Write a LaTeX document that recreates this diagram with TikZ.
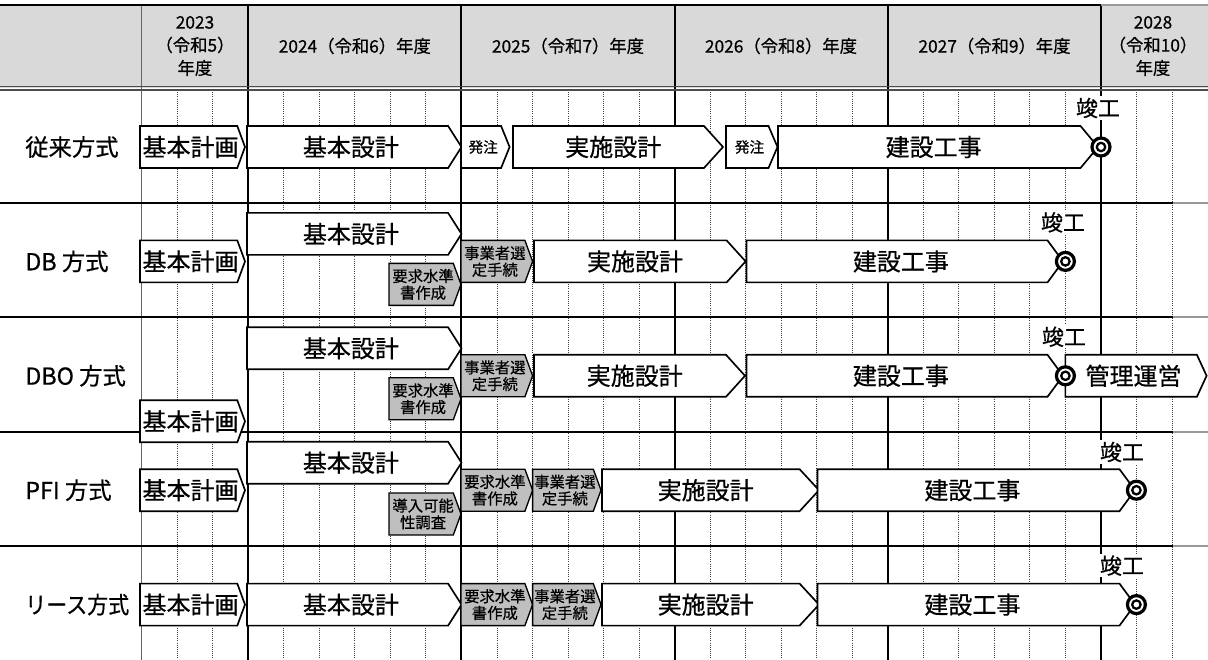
\documentclass[tikz,border=0pt]{standalone}
\usepackage{fontspec}
\setmainfont{Noto Sans CJK JP}[RawFeature={embolden=0.6}]
\definecolor{hdr}{RGB}{217,217,217}
\definecolor{boxgray}{RGB}{191,191,191}
\newcommand\chev[8]{%
  \draw[#6] (#2,#4) -- ({#3-#5},#4) -- (#3,{#4+21}) -- ({#3-#5},{#4+42}) -- (#2,{#4+42}) -- cycle;
  \node[#7] (#1) at ({(#2+#3-#5/2)/2},{#4+21}) {#8};}
\newcommand\done[5]{% name, x circle, y circle, x label, y label
  \node[donelab] (#1l) at (#4,#5) {竣工};
  \node[ringout] (#1) at (#2,#3) {};
  \node[ringin] (#1i) at (#2,#3) {};}
\begin{document}
\begin{tikzpicture}[x=0.75pt,y=-0.75pt,
  wbox/.style={draw=black, fill=white, line width=1.25pt},
  gboxs/.style={draw=black, fill=boxgray, line width=1pt},
  wtxt/.style={font=\fontsize{18}{20}\selectfont, inner sep=0pt},
  gtxt/.style={font=\fontsize{11.5}{12.5}\selectfont, align=center, inner sep=0pt},
  stxt/.style={font=\fontsize{11}{13}\selectfont, inner sep=0pt},
  rowlab/.style={font=\fontsize{17.5}{20}\selectfont, anchor=west, inner sep=0pt},
  hdrtxt/.style={font=\fontsize{13}{17.25}\selectfont, align=center, inner sep=0pt},
  donelab/.style={font=\fontsize{16.5}{18}\selectfont, fill=white, inner sep=1pt},
  ringout/.style={circle, draw=black, fill=white, line width=2.4pt, minimum size=13.5pt, inner sep=0pt},
  ringin/.style={circle, draw=black, line width=1.7pt, minimum size=6.3pt, inner sep=0pt},
  yearline/.style={line width=1.5pt, black},
  dotline/.style={densely dotted, line width=0.6pt, black!75},
  sepline/.style={line width=1.5pt, black},
  fadeline/.style={line width=1.5pt, black!40}
]
\useasboundingbox (0,0) rectangle (1208,660);
% header background
\fill[hdr] (0,5.5) rectangle (1208,88);
% dotted grid
\foreach \t in {1,...,29}{
  \pgfmathparse{int(mod(\t+3,6))}
  \ifnum\pgfmathresult=0 \else
    \draw[dotline] ({141.6+35.53*\t},90) -- ({141.6+35.53*\t},660);
  \fi}
% solid year lines
\draw[line width=0.9pt, black!60] (141.6,5.5) -- (141.6,660);
\foreach \t in {3,9,15,21,27}
  \draw[yearline] ({141.6+35.53*\t},5.5) -- ({141.6+35.53*\t},660);
% top and header bottom
\draw[sepline] (0,5.5) -- (1101,5.5);
\draw[fadeline] (1101,5.5) -- (1208,5.5);
\draw[line width=0.7pt, black!70] (0,86.5) -- (1208,86.5);
\draw[line width=1.1pt, black!70] (0,90) -- (1208,90);
% row separators
\foreach \y in {202.9,317.3,431.7,546.1}{
  \draw[sepline] (0,\y) -- (1173,\y);
  \draw[fadeline] (1173,\y) -- (1208,\y);}
% header texts
\node[hdrtxt] (h23) at (195,46) {2023\\（令和5）\\年度};
\node[hdrtxt] (h24) at (354.8,46) {2024（令和6）年度};
\node[hdrtxt] (h25) at (568,46) {2025（令和7）年度};
\node[hdrtxt] (h26) at (781,46) {2026（令和8）年度};
\node[hdrtxt] (h27) at (994.5,46) {2027（令和9）年度};
\node[hdrtxt] (h28) at (1153,46) {2028\\（令和10）\\年度};
% row labels
\node[rowlab] (r1) at (25,147) {従来方式};
\node[rowlab] (r2) at (25,261.4) {DB 方式};
\node[rowlab] (r3) at (25,375.8) {DBO 方式};
\node[rowlab] (r4) at (25,490.2) {PFI 方式};
\node[rowlab] (r5) at (25,604.6) {\scalebox{0.9}[1]{リース方式}};
% row 1
\chev{a1}{140}{245}{126}{7.7}{wbox}{wtxt}{基本計画}
\chev{a2}{247}{461.5}{126}{13.4}{wbox}{wtxt}{基本設計}
\chev{a3}{461}{509.6}{126}{8.5}{wbox}{stxt}{発注}
\chev{a4}{513}{723}{126}{19}{wbox}{wtxt}{実施設計}
\chev{a5}{726}{777.5}{126}{9}{wbox}{stxt}{発注}
\chev{a6}{778}{1098}{126}{17.5}{wbox}{wtxt}{建設工事}
\done{k1}{1101}{147}{1098}{108}
% row 2
\chev{b1}{140}{245}{240.4}{7.7}{wbox}{wtxt}{基本計画}
\chev{b2}{247}{461.5}{212.9}{13.4}{wbox}{wtxt}{基本設計}
\chev{b3}{389}{461}{263.4}{7.7}{gboxs}{gtxt}{要求水準\\書作成}
\chev{b4}{461}{532.6}{240.4}{7.7}{gboxs}{gtxt}{事業者選\\定手続}
\chev{b5}{534}{745.6}{240.4}{19}{wbox}{wtxt}{実施設計}
\chev{b6}{746.5}{1063}{240.4}{15.5}{wbox}{wtxt}{建設工事}
\done{k2}{1065.4}{261.4}{1063}{222.4}
% row 3
\chev{c1}{140}{245}{400.3}{7.7}{wbox}{wtxt}{基本計画}
\chev{c2}{247}{461.5}{327.3}{13.4}{wbox}{wtxt}{基本設計}
\chev{c3}{389}{461}{377.8}{7.7}{gboxs}{gtxt}{要求水準\\書作成}
\chev{c4}{461}{532.6}{354.8}{7.7}{gboxs}{gtxt}{事業者選\\定手続}
\chev{c5}{534}{745}{354.8}{19}{wbox}{wtxt}{実施設計}
\chev{c6}{746.5}{1063}{354.8}{15.5}{wbox}{wtxt}{建設工事}
\chev{c7}{1065.4}{1206.6}{354.8}{9.7}{wbox}{wtxt}{管理運営}
\done{k3}{1065.4}{375.8}{1064}{336.8}
% row 4
\chev{d1}{140}{245}{469.2}{7.7}{wbox}{wtxt}{基本計画}
\chev{d2}{247}{461.5}{441.7}{13.4}{wbox}{wtxt}{基本設計}
\chev{d3}{389}{461}{493}{7.7}{gboxs}{gtxt}{導入可能\\性調査}
\chev{d4}{461}{532.6}{469.2}{7.7}{gboxs}{gtxt}{要求水準\\書作成}
\chev{d5}{532.6}{601}{469.2}{7.7}{gboxs}{gtxt}{事業者選\\定手続}
\chev{d6}{602}{819}{469.2}{19.4}{wbox}{wtxt}{実施設計}
\chev{d7}{817.5}{1135}{469.2}{15.5}{wbox}{wtxt}{建設工事}
\done{k4}{1136.4}{490.2}{1122}{452}
% row 5
\chev{e1}{140}{245}{583.6}{7.7}{wbox}{wtxt}{基本計画}
\chev{e2}{247}{461.5}{583.6}{13.4}{wbox}{wtxt}{基本設計}
\chev{e3}{461}{532.6}{583.6}{7.7}{gboxs}{gtxt}{要求水準\\書作成}
\chev{e4}{532.6}{601}{583.6}{7.7}{gboxs}{gtxt}{事業者選\\定手続}
\chev{e5}{602}{819}{583.6}{19.4}{wbox}{wtxt}{実施設計}
\chev{e6}{817.5}{1135}{583.6}{15.5}{wbox}{wtxt}{建設工事}
\done{k5}{1136.4}{604.6}{1122}{565.6}
\end{tikzpicture}
\end{document}
